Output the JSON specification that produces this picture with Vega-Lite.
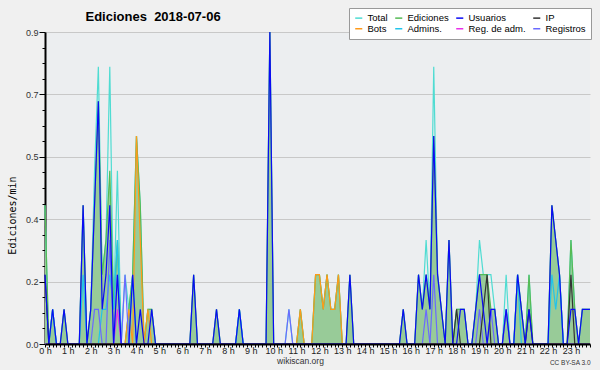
{
"$schema": "https://vega.github.io/schema/vega-lite/v6.json",
"width": 545, "height": 312,
"autosize": {"type": "none"},
"padding": {"left": 45, "top": 32, "right": 10, "bottom": 26},
"background": "#f0f0f0",
"config": {"view": {"fill": "#eceef0", "stroke": null}, "font": "Liberation Sans"},
"data": {"values": [
{"t":0,"T":0.4,"E":0.4,"U":0.2,"I":0.2,"B":0,"A":0,"R":0,"G":0},
{"t":10,"T":0,"E":0,"U":0,"I":0,"B":0,"A":0,"R":0,"G":0},
{"t":20,"T":0.1,"E":0.1,"U":0.1,"I":0,"B":0,"A":0.1,"R":0,"G":0},
{"t":30,"T":0,"E":0,"U":0,"I":0,"B":0,"A":0,"R":0,"G":0},
{"t":40,"T":0,"E":0,"U":0,"I":0,"B":0,"A":0,"R":0,"G":0},
{"t":50,"T":0.1,"E":0.1,"U":0.1,"I":0,"B":0,"A":0,"R":0,"G":0},
{"t":60,"T":0,"E":0,"U":0,"I":0,"B":0,"A":0,"R":0,"G":0},
{"t":70,"T":0,"E":0,"U":0,"I":0,"B":0,"A":0,"R":0,"G":0},
{"t":80,"T":0,"E":0,"U":0,"I":0,"B":0,"A":0,"R":0,"G":0},
{"t":90,"T":0,"E":0,"U":0,"I":0,"B":0,"A":0,"R":0,"G":0},
{"t":100,"T":0.4,"E":0.4,"U":0.4,"I":0,"B":0,"A":0.2,"R":0,"G":0},
{"t":110,"T":0,"E":0,"U":0,"I":0,"B":0,"A":0,"R":0,"G":0},
{"t":120,"T":0.1,"E":0.1,"U":0.1,"I":0,"B":0,"A":0,"R":0,"G":0},
{"t":130,"T":0.5,"E":0.4,"U":0.4,"I":0,"B":0,"A":0,"R":0,"G":0.1},
{"t":140,"T":0.8,"E":0.7,"U":0.7,"I":0,"B":0,"A":0,"R":0,"G":0.1},
{"t":150,"T":0.2,"E":0.2,"U":0.1,"I":0,"B":0,"A":0.1,"R":0,"G":0},
{"t":160,"T":0.3,"E":0.3,"U":0.2,"I":0,"B":0,"A":0.1,"R":0,"G":0},
{"t":170,"T":0.8,"E":0.5,"U":0.4,"I":0,"B":0,"A":0.2,"R":0,"G":0.3},
{"t":180,"T":0.1,"E":0.1,"U":0,"I":0,"B":0,"A":0.1,"R":0,"G":0},
{"t":190,"T":0.5,"E":0.3,"U":0.2,"I":0,"B":0,"A":0.3,"R":0.1,"G":0.2},
{"t":200,"T":0,"E":0,"U":0,"I":0,"B":0,"A":0,"R":0,"G":0},
{"t":210,"T":0.2,"E":0,"U":0,"I":0,"B":0,"A":0,"R":0,"G":0.2},
{"t":220,"T":0.1,"E":0.1,"U":0,"I":0,"B":0.1,"A":0,"R":0,"G":0},
{"t":230,"T":0.2,"E":0.2,"U":0.2,"I":0,"B":0,"A":0.2,"R":0,"G":0},
{"t":240,"T":0.6,"E":0.6,"U":0,"I":0,"B":0.6,"A":0,"R":0,"G":0},
{"t":250,"T":0.4,"E":0.4,"U":0.1,"I":0,"B":0.3,"A":0,"R":0,"G":0},
{"t":260,"T":0,"E":0,"U":0,"I":0,"B":0,"A":0,"R":0,"G":0},
{"t":270,"T":0.1,"E":0.1,"U":0,"I":0,"B":0.1,"A":0,"R":0,"G":0},
{"t":280,"T":0.1,"E":0.1,"U":0.1,"I":0,"B":0,"A":0,"R":0,"G":0},
{"t":290,"T":0,"E":0,"U":0,"I":0,"B":0,"A":0,"R":0,"G":0},
{"t":300,"T":0,"E":0,"U":0,"I":0,"B":0,"A":0,"R":0,"G":0},
{"t":310,"T":0,"E":0,"U":0,"I":0,"B":0,"A":0,"R":0,"G":0},
{"t":320,"T":0,"E":0,"U":0,"I":0,"B":0,"A":0,"R":0,"G":0},
{"t":330,"T":0,"E":0,"U":0,"I":0,"B":0,"A":0,"R":0,"G":0},
{"t":340,"T":0,"E":0,"U":0,"I":0,"B":0,"A":0,"R":0,"G":0},
{"t":350,"T":0,"E":0,"U":0,"I":0,"B":0,"A":0,"R":0,"G":0},
{"t":360,"T":0,"E":0,"U":0,"I":0,"B":0,"A":0,"R":0,"G":0},
{"t":370,"T":0,"E":0,"U":0,"I":0,"B":0,"A":0,"R":0,"G":0},
{"t":380,"T":0,"E":0,"U":0,"I":0,"B":0,"A":0,"R":0,"G":0},
{"t":390,"T":0.2,"E":0.2,"U":0.2,"I":0,"B":0,"A":0,"R":0,"G":0},
{"t":400,"T":0,"E":0,"U":0,"I":0,"B":0,"A":0,"R":0,"G":0},
{"t":410,"T":0,"E":0,"U":0,"I":0,"B":0,"A":0,"R":0,"G":0},
{"t":420,"T":0,"E":0,"U":0,"I":0,"B":0,"A":0,"R":0,"G":0},
{"t":430,"T":0,"E":0,"U":0,"I":0,"B":0,"A":0,"R":0,"G":0},
{"t":440,"T":0,"E":0,"U":0,"I":0,"B":0,"A":0,"R":0,"G":0},
{"t":450,"T":0.1,"E":0.1,"U":0.1,"I":0,"B":0,"A":0,"R":0,"G":0},
{"t":460,"T":0,"E":0,"U":0,"I":0,"B":0,"A":0,"R":0,"G":0},
{"t":470,"T":0,"E":0,"U":0,"I":0,"B":0,"A":0,"R":0,"G":0},
{"t":480,"T":0,"E":0,"U":0,"I":0,"B":0,"A":0,"R":0,"G":0},
{"t":490,"T":0,"E":0,"U":0,"I":0,"B":0,"A":0,"R":0,"G":0},
{"t":500,"T":0,"E":0,"U":0,"I":0,"B":0,"A":0,"R":0,"G":0},
{"t":510,"T":0.1,"E":0.1,"U":0.1,"I":0,"B":0,"A":0.1,"R":0,"G":0},
{"t":520,"T":0,"E":0,"U":0,"I":0,"B":0,"A":0,"R":0,"G":0},
{"t":530,"T":0,"E":0,"U":0,"I":0,"B":0,"A":0,"R":0,"G":0},
{"t":540,"T":0,"E":0,"U":0,"I":0,"B":0,"A":0,"R":0,"G":0},
{"t":550,"T":0,"E":0,"U":0,"I":0,"B":0,"A":0,"R":0,"G":0},
{"t":560,"T":0,"E":0,"U":0,"I":0,"B":0,"A":0,"R":0,"G":0},
{"t":570,"T":0,"E":0,"U":0,"I":0,"B":0,"A":0,"R":0,"G":0},
{"t":580,"T":0,"E":0,"U":0,"I":0,"B":0,"A":0,"R":0,"G":0},
{"t":590,"T":0.9,"E":0.9,"U":0.9,"I":0,"B":0,"A":0,"R":0,"G":0},
{"t":600,"T":0,"E":0,"U":0,"I":0,"B":0,"A":0,"R":0,"G":0},
{"t":610,"T":0,"E":0,"U":0,"I":0,"B":0,"A":0,"R":0,"G":0},
{"t":620,"T":0,"E":0,"U":0,"I":0,"B":0,"A":0,"R":0,"G":0},
{"t":630,"T":0,"E":0,"U":0,"I":0,"B":0,"A":0,"R":0,"G":0},
{"t":640,"T":0.1,"E":0,"U":0,"I":0,"B":0,"A":0,"R":0,"G":0.1},
{"t":650,"T":0,"E":0,"U":0,"I":0,"B":0,"A":0,"R":0,"G":0},
{"t":660,"T":0,"E":0,"U":0,"I":0,"B":0,"A":0,"R":0,"G":0},
{"t":670,"T":0.1,"E":0.1,"U":0,"I":0,"B":0.1,"A":0,"R":0,"G":0},
{"t":680,"T":0,"E":0,"U":0,"I":0,"B":0,"A":0,"R":0,"G":0},
{"t":690,"T":0,"E":0,"U":0,"I":0,"B":0,"A":0,"R":0,"G":0},
{"t":700,"T":0,"E":0,"U":0,"I":0,"B":0,"A":0,"R":0,"G":0},
{"t":710,"T":0.2,"E":0.2,"U":0,"I":0,"B":0.2,"A":0,"R":0,"G":0},
{"t":720,"T":0.2,"E":0.2,"U":0,"I":0,"B":0.2,"A":0,"R":0,"G":0},
{"t":730,"T":0.1,"E":0.1,"U":0,"I":0,"B":0.1,"A":0,"R":0,"G":0},
{"t":740,"T":0.2,"E":0.2,"U":0,"I":0,"B":0.2,"A":0,"R":0,"G":0},
{"t":750,"T":0.1,"E":0.1,"U":0,"I":0,"B":0.1,"A":0,"R":0,"G":0},
{"t":760,"T":0.1,"E":0.1,"U":0,"I":0,"B":0.1,"A":0,"R":0,"G":0},
{"t":770,"T":0.2,"E":0.2,"U":0,"I":0,"B":0.2,"A":0,"R":0,"G":0},
{"t":780,"T":0,"E":0,"U":0,"I":0,"B":0,"A":0,"R":0,"G":0},
{"t":790,"T":0,"E":0,"U":0,"I":0,"B":0,"A":0,"R":0,"G":0},
{"t":800,"T":0.2,"E":0.2,"U":0.2,"I":0,"B":0,"A":0,"R":0,"G":0},
{"t":810,"T":0,"E":0,"U":0,"I":0,"B":0,"A":0,"R":0,"G":0},
{"t":820,"T":0,"E":0,"U":0,"I":0,"B":0,"A":0,"R":0,"G":0},
{"t":830,"T":0,"E":0,"U":0,"I":0,"B":0,"A":0,"R":0,"G":0},
{"t":840,"T":0,"E":0,"U":0,"I":0,"B":0,"A":0,"R":0,"G":0},
{"t":850,"T":0,"E":0,"U":0,"I":0,"B":0,"A":0,"R":0,"G":0},
{"t":860,"T":0,"E":0,"U":0,"I":0,"B":0,"A":0,"R":0,"G":0},
{"t":870,"T":0,"E":0,"U":0,"I":0,"B":0,"A":0,"R":0,"G":0},
{"t":880,"T":0,"E":0,"U":0,"I":0,"B":0,"A":0,"R":0,"G":0},
{"t":890,"T":0,"E":0,"U":0,"I":0,"B":0,"A":0,"R":0,"G":0},
{"t":900,"T":0,"E":0,"U":0,"I":0,"B":0,"A":0,"R":0,"G":0},
{"t":910,"T":0,"E":0,"U":0,"I":0,"B":0,"A":0,"R":0,"G":0},
{"t":920,"T":0,"E":0,"U":0,"I":0,"B":0,"A":0,"R":0,"G":0},
{"t":930,"T":0,"E":0,"U":0,"I":0,"B":0,"A":0,"R":0,"G":0},
{"t":940,"T":0.1,"E":0.1,"U":0.1,"I":0,"B":0,"A":0,"R":0,"G":0},
{"t":950,"T":0,"E":0,"U":0,"I":0,"B":0,"A":0,"R":0,"G":0},
{"t":960,"T":0,"E":0,"U":0,"I":0,"B":0,"A":0,"R":0,"G":0},
{"t":970,"T":0,"E":0,"U":0,"I":0,"B":0,"A":0,"R":0,"G":0},
{"t":980,"T":0.2,"E":0.2,"U":0.2,"I":0,"B":0,"A":0,"R":0,"G":0},
{"t":990,"T":0.1,"E":0.1,"U":0.1,"I":0,"B":0,"A":0,"R":0,"G":0},
{"t":1000,"T":0.3,"E":0.2,"U":0.2,"I":0,"B":0,"A":0,"R":0,"G":0.1},
{"t":1010,"T":0.1,"E":0.1,"U":0.1,"I":0,"B":0,"A":0,"R":0,"G":0},
{"t":1020,"T":0.8,"E":0.6,"U":0.6,"I":0,"B":0,"A":0,"R":0,"G":0.2},
{"t":1030,"T":0.2,"E":0.2,"U":0.2,"I":0,"B":0,"A":0,"R":0,"G":0},
{"t":1040,"T":0.1,"E":0.1,"U":0.1,"I":0,"B":0,"A":0,"R":0,"G":0},
{"t":1050,"T":0,"E":0,"U":0,"I":0,"B":0,"A":0,"R":0,"G":0},
{"t":1060,"T":0.3,"E":0.3,"U":0.3,"I":0,"B":0,"A":0,"R":0,"G":0},
{"t":1070,"T":0,"E":0,"U":0,"I":0,"B":0,"A":0,"R":0,"G":0},
{"t":1080,"T":0.1,"E":0.1,"U":0,"I":0.1,"B":0,"A":0,"R":0,"G":0},
{"t":1090,"T":0.1,"E":0.1,"U":0.1,"I":0,"B":0,"A":0,"R":0,"G":0},
{"t":1100,"T":0.1,"E":0.1,"U":0.1,"I":0,"B":0,"A":0,"R":0,"G":0},
{"t":1110,"T":0,"E":0,"U":0,"I":0,"B":0,"A":0,"R":0,"G":0},
{"t":1120,"T":0,"E":0,"U":0,"I":0,"B":0,"A":0,"R":0,"G":0},
{"t":1130,"T":0.1,"E":0.1,"U":0.1,"I":0,"B":0,"A":0,"R":0,"G":0},
{"t":1140,"T":0.3,"E":0.2,"U":0.2,"I":0,"B":0,"A":0,"R":0,"G":0.1},
{"t":1150,"T":0.2,"E":0.2,"U":0.1,"I":0.1,"B":0,"A":0,"R":0,"G":0},
{"t":1160,"T":0.2,"E":0.2,"U":0,"I":0.2,"B":0,"A":0,"R":0,"G":0},
{"t":1170,"T":0.2,"E":0.1,"U":0.1,"I":0,"B":0,"A":0,"R":0,"G":0.1},
{"t":1180,"T":0.1,"E":0.1,"U":0.1,"I":0,"B":0,"A":0,"R":0,"G":0},
{"t":1190,"T":0,"E":0,"U":0,"I":0,"B":0,"A":0,"R":0,"G":0},
{"t":1200,"T":0,"E":0,"U":0,"I":0,"B":0,"A":0,"R":0,"G":0},
{"t":1210,"T":0.2,"E":0.1,"U":0.1,"I":0,"B":0,"A":0,"R":0,"G":0.1},
{"t":1220,"T":0,"E":0,"U":0,"I":0,"B":0,"A":0,"R":0,"G":0},
{"t":1230,"T":0,"E":0,"U":0,"I":0,"B":0,"A":0,"R":0,"G":0},
{"t":1240,"T":0.2,"E":0.2,"U":0.2,"I":0,"B":0,"A":0.2,"R":0,"G":0},
{"t":1250,"T":0.1,"E":0.1,"U":0.1,"I":0,"B":0,"A":0,"R":0,"G":0},
{"t":1260,"T":0,"E":0,"U":0,"I":0,"B":0,"A":0,"R":0,"G":0},
{"t":1270,"T":0.2,"E":0.2,"U":0.1,"I":0.1,"B":0,"A":0,"R":0,"G":0},
{"t":1280,"T":0,"E":0,"U":0,"I":0,"B":0,"A":0,"R":0,"G":0},
{"t":1290,"T":0,"E":0,"U":0,"I":0,"B":0,"A":0,"R":0,"G":0},
{"t":1300,"T":0,"E":0,"U":0,"I":0,"B":0,"A":0,"R":0,"G":0},
{"t":1310,"T":0,"E":0,"U":0,"I":0,"B":0,"A":0,"R":0,"G":0},
{"t":1320,"T":0,"E":0,"U":0,"I":0,"B":0,"A":0,"R":0,"G":0},
{"t":1330,"T":0.4,"E":0.4,"U":0.4,"I":0,"B":0,"A":0.2,"R":0,"G":0},
{"t":1340,"T":0.3,"E":0.3,"U":0.3,"I":0,"B":0,"A":0.1,"R":0,"G":0},
{"t":1350,"T":0.2,"E":0.2,"U":0.2,"I":0,"B":0,"A":0.2,"R":0,"G":0},
{"t":1360,"T":0,"E":0,"U":0,"I":0,"B":0,"A":0,"R":0,"G":0},
{"t":1370,"T":0,"E":0,"U":0,"I":0,"B":0,"A":0,"R":0,"G":0},
{"t":1380,"T":0.3,"E":0.3,"U":0.1,"I":0.2,"B":0,"A":0,"R":0,"G":0},
{"t":1390,"T":0.1,"E":0.1,"U":0.1,"I":0,"B":0,"A":0,"R":0,"G":0},
{"t":1400,"T":0,"E":0,"U":0,"I":0,"B":0,"A":0,"R":0,"G":0},
{"t":1410,"T":0.1,"E":0.1,"U":0.1,"I":0,"B":0,"A":0,"R":0,"G":0},
{"t":1420,"T":0.1,"E":0.1,"U":0.1,"I":0,"B":0,"A":0,"R":0,"G":0},
{"t":1430,"T":0.1,"E":0.1,"U":0.1,"I":0,"B":0,"A":0,"R":0,"G":0}
]},
"transform": [{"fold": ["T","E","B","A","R","G","I","U"], "as": ["s","v"]}],
"layer": [
  {"transform": [{"filter": "datum.s === 'E'"}],
   "mark": {"type": "area", "fill": "#98cb98", "opacity": 1, "interpolate": "linear"},
   "encoding": {
     "x": {"field": "t", "type": "quantitative", "scale": {"domain": [0, 1430], "nice": false, "zero": false},
      "axis": {"values": [0,10,20,30,40,50,60,70,80,90,100,110,120,130,140,150,160,170,180,190,200,210,220,230,240,250,260,270,280,290,300,310,320,330,340,350,360,370,380,390,400,410,420,430,440,450,460,470,480,490,500,510,520,530,540,550,560,570,580,590,600,610,620,630,640,650,660,670,680,690,700,710,720,730,740,750,760,770,780,790,800,810,820,830,840,850,860,870,880,890,900,910,920,930,940,950,960,970,980,990,1000,1010,1020,1030,1040,1050,1060,1070,1080,1090,1100,1110,1120,1130,1140,1150,1160,1170,1180,1190,1200,1210,1220,1230,1240,1250,1260,1270,1280,1290,1300,1310,1320,1330,1340,1350,1360,1370,1380,1390,1400,1410,1420,1430],
        "labelExpr": "datum.value % 60 == 0 ? (datum.value / 60) + ' h' : ''",
        "tickSize": 3, "tickColor": "#000", "labelPadding": -1, "labelFontSize": 9, "labelFont": "Liberation Sans", "labelColor": "#222",
        "domainWidth": 2, "domainColor": "#000", "grid": false, "labelOverlap": false, "labelFlush": false, "labelBound": false, "zindex": 2,
        "title": "wikiscan.org", "titleFont": "Liberation Sans", "titleFontSize": 8.5, "titleFontWeight": "normal", "titleColor": "#333",
        "titleX": 255, "titleY": 19.5, "titleAlign": "center", "titleBaseline": "alphabetic"}},
     "y": {"field": "v", "type": "quantitative", "scale": {"domain": [0, 0.9], "nice": false},
     "axis": {"values": [0,0.045,0.09,0.135,0.18,0.225,0.27,0.315,0.36,0.405,0.45,0.495,0.54,0.585,0.63,0.675,0.72,0.765,0.81,0.855,0.9],
       "labelExpr": "abs(datum.value/0.18 - round(datum.value/0.18)) < 0.01 ? format(datum.value, '.1f') : ''",
       "tickSize": {"condition": {"test": "abs(datum.value/0.18 - round(datum.value/0.18)) < 0.01", "value": 6}, "value": 3},
       "gridOpacity": {"condition": {"test": "abs(datum.value/0.18 - round(datum.value/0.18)) < 0.01", "value": 1}, "value": 0},
       "gridColor": "#c8c8c8", "grid": true, "tickColor": "#000", "domainColor": "#000", "domainWidth": 2,
       "labelFontSize": 9, "labelFont": "Liberation Sans", "labelColor": "#333", "labelPadding": 1, "labelOverlap": false, "labelBound": false, "labelFlush": false,
       "title": "Ediciones/min", "titleFont": "DejaVu Sans Mono", "titleFontSize": 10, "titleFontWeight": "normal", "titleColor": "#000",
       "titleX": -33, "titleY": 183, "titleAngle": -90, "titleAlign": "center", "titleBaseline": "middle"}}}},
  {"mark": {"type": "line", "strokeWidth": 1.2, "interpolate": "linear"},
   "encoding": {
     "x": {"field": "t", "type": "quantitative", "scale": {"domain": [0, 1430], "nice": false, "zero": false},
       "axis": {"orient": "top", "domain": false, "ticks": false, "labels": false, "grid": false,
         "title": "Ediciones\u00a0\u00a02018-07-06", "titleFont": "Liberation Sans", "titleFontSize": 13, "titleFontWeight": "bold", "titleColor": "#000",
         "titleX": 40, "titleY": -11.5, "titleAlign": "left", "titleBaseline": "alphabetic", "titleAngle": 0}},
     "y": {"field": "v", "type": "quantitative", "scale": {"domain": [0, 0.9], "nice": false},
       "axis": {"orient": "right", "domain": false, "ticks": false, "labels": false, "grid": false,
         "title": "CC BY-SA 3.0", "titleFont": "Liberation Sans", "titleFontSize": 6.5, "titleFontWeight": "normal", "titleColor": "#333",
         "titleAngle": 0, "titleX": 0, "titleY": 330, "titleAlign": "right", "titleBaseline": "middle"}},
     "color": {"field": "s", "type": "nominal",
       "scale": {"domain": ["T","E","U","I","B","A","R","G"], "range": ["#4fdcd2","#55bb55","#0a0af5","#333333","#ff9a1a","#22c4ea","#e830e8","#6a6aff"]},
       "legend": {"orient": "none", "legendX": 304, "legendY": -24, "direction": "horizontal", "columns": 4, "title": null,
         "fillColor": "#ffffff", "strokeColor": "#999999", "padding": 5, "symbolType": "stroke", "symbolSize": 50, "symbolStrokeWidth": 1.5,
         "labelFontSize": 9.5, "labelFont": "Liberation Sans", "labelColor": "#000", "labelOffset": 4, "columnPadding": 4, "rowPadding": 0,
         "labelExpr": "datum.label == 'T' ? 'Total' : datum.label == 'E' ? 'Ediciones' : datum.label == 'U' ? 'Usuarios' : datum.label == 'I' ? 'IP' : datum.label == 'B' ? 'Bots' : datum.label == 'A' ? 'Admins.' : datum.label == 'R' ? 'Reg. de adm.' : 'Registros'"}}
   }}
],
"resolve": {"axis": {"y": "independent", "x": "independent"}}
}
